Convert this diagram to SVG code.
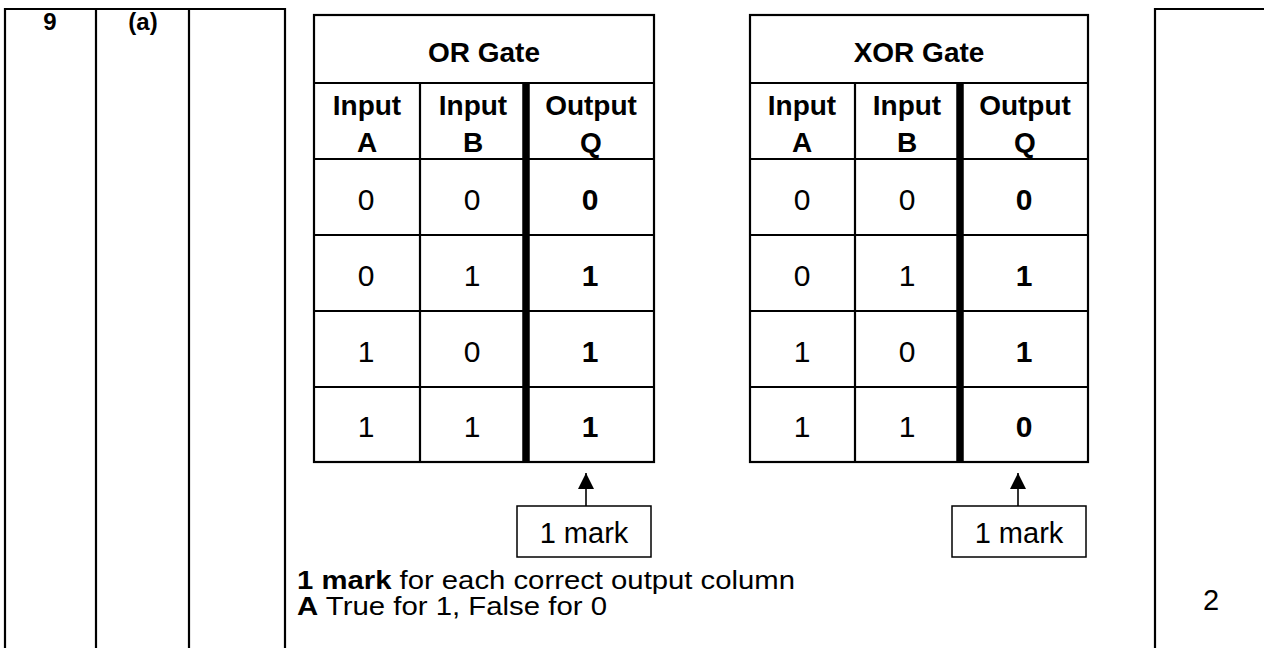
<svg xmlns="http://www.w3.org/2000/svg" width="1264" height="648" viewBox="0 0 1264 648">
<defs>
<style>
text{font-family:"Liberation Sans",Arial,sans-serif;fill:#000}
.b{font-weight:bold}
.c{text-anchor:middle}
.t{font-size:28px}
.d{font-size:30px}
.s{font-size:24px}
.n{font-size:29px}
.m{font-size:26px}
.ln{stroke:#000;stroke-width:2.2;fill:none}
.thick{stroke:#000;stroke-width:7.5;fill:none}
.box{stroke:#000;stroke-width:1.5;fill:#fff}
.arr{stroke:#000;stroke-width:1.6;fill:none}
</style>
<marker id="ah" viewBox="0 0 10 10" refX="10" refY="5" markerWidth="16" markerHeight="16" markerUnits="userSpaceOnUse" orient="auto">
<path d="M0,0 L10,5 L0,10 z" fill="#000"/>
</marker>
</defs>
<rect width="1264" height="648" fill="#fff"/>

<g id="outer-frame">
<path class="ln" d="M5,648 V9 H285 V648 M96,9 V648 M189,9 V648"/>
<path class="ln" d="M1155,648 V9 H1264"/>
<text class="b c s" x="50" y="30">9</text>
<text class="b c s" x="143" y="30">(a)</text>
<text class="c n" x="1211" y="610">2</text>
</g>

<g id="or-table">
<rect class="ln" x="314" y="15" width="340" height="447"/>
<path class="ln" d="M314,83 H654 M314,159 H654 M314,235 H654 M314,311 H654 M314,387 H654 M420,83 V462"/>
<path class="thick" d="M526,83 V462"/>
<text class="b c t" x="484" y="62">OR Gate</text>
<text class="b c t" x="367" y="115">Input</text>
<text class="b c t" x="367" y="152">A</text>
<text class="b c t" x="473" y="115">Input</text>
<text class="b c t" x="473" y="152">B</text>
<text class="b c t" x="591" y="115">Output</text>
<text class="b c t" x="591" y="152">Q</text>
<text class="c d" x="366" y="210">0</text><text class="c d" x="472" y="210">0</text><text class="b c d" x="590" y="210">0</text>
<text class="c d" x="366" y="286">0</text><text class="c d" x="472" y="286">1</text><text class="b c d" x="590" y="286">1</text>
<text class="c d" x="366" y="362">1</text><text class="c d" x="472" y="362">0</text><text class="b c d" x="590" y="362">1</text>
<text class="c d" x="366" y="437">1</text><text class="c d" x="472" y="437">1</text><text class="b c d" x="590" y="437">1</text>
</g>

<g id="xor-table">
<rect class="ln" x="750" y="15" width="338" height="447"/>
<path class="ln" d="M750,83 H1088 M750,159 H1088 M750,235 H1088 M750,311 H1088 M750,387 H1088 M855,83 V462"/>
<path class="thick" d="M960,83 V462"/>
<text class="b c t" x="919" y="62">XOR Gate</text>
<text class="b c t" x="802" y="115">Input</text>
<text class="b c t" x="802" y="152">A</text>
<text class="b c t" x="907" y="115">Input</text>
<text class="b c t" x="907" y="152">B</text>
<text class="b c t" x="1025" y="115">Output</text>
<text class="b c t" x="1025" y="152">Q</text>
<text class="c d" x="802" y="210">0</text><text class="c d" x="907" y="210">0</text><text class="b c d" x="1024" y="210">0</text>
<text class="c d" x="802" y="286">0</text><text class="c d" x="907" y="286">1</text><text class="b c d" x="1024" y="286">1</text>
<text class="c d" x="802" y="362">1</text><text class="c d" x="907" y="362">0</text><text class="b c d" x="1024" y="362">1</text>
<text class="c d" x="802" y="437">1</text><text class="c d" x="907" y="437">1</text><text class="b c d" x="1024" y="437">0</text>
</g>

<g id="connectors">
<line class="arr" x1="586" y1="506" x2="586" y2="473" marker-end="url(#ah)"/>
<line class="arr" x1="1018" y1="506" x2="1018" y2="473" marker-end="url(#ah)"/>
</g>

<g id="or-mark">
<rect class="box" x="517" y="506" width="134" height="51"/>
<text class="c n" x="584" y="543">1 mark</text>
</g>

<g id="xor-mark">
<rect class="box" x="952" y="506" width="134" height="51"/>
<text class="c n" x="1019" y="543">1 mark</text>
</g>

<g id="notes">
<text class="m" x="297" y="589" textLength="498" lengthAdjust="spacingAndGlyphs"><tspan class="b">1 mark</tspan> for each correct output column</text>
<text class="m" x="297" y="615" textLength="310" lengthAdjust="spacingAndGlyphs"><tspan class="b">A</tspan> True for 1, False for 0</text>
</g>
</svg>
